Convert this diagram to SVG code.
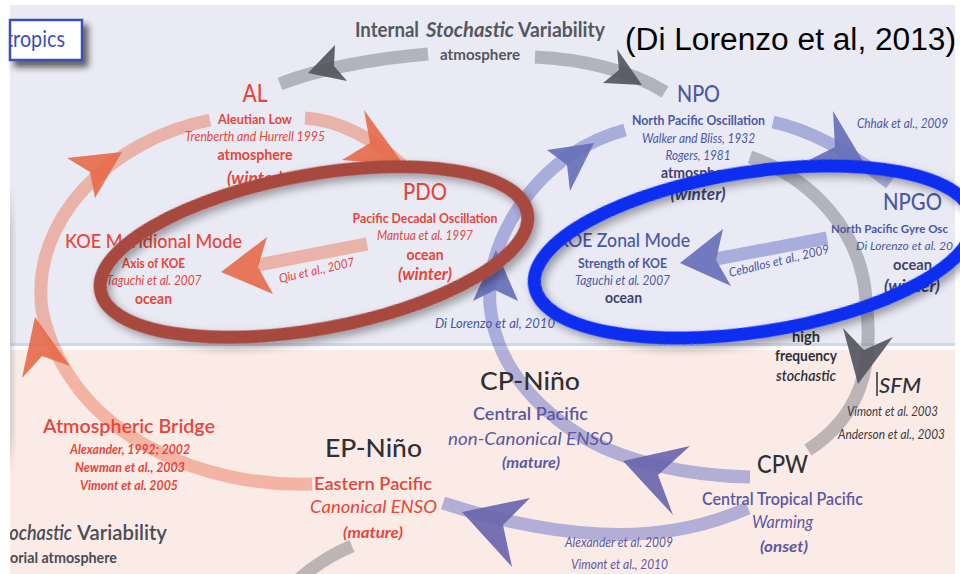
<svg xmlns="http://www.w3.org/2000/svg" width="960" height="574" viewBox="0 0 960 574">
<defs>
<style>
text{font-family:Lato,"Open Sans","DejaVu Sans",sans-serif}
.r{fill:#e6463a}.b{fill:#4a58a6}.p{fill:#5b58a3}.d{fill:#2f3034}.g{fill:#55575f}.n{fill:#3f4472}
.i{font-style:italic}.w{font-weight:700}.s{font-weight:600}.m{font-weight:500}
.band{fill:none;stroke-width:13}
.or{stroke:rgba(232,112,80,0.45)}
.lv{stroke:rgba(90,100,190,0.45)}
.gy{stroke:rgba(110,112,120,0.45)}
.ho{fill:#e66d4c;opacity:.92}.hl{fill:#6670b9;opacity:.92}.hp{fill:#6a66ae;opacity:.92}.hg{fill:#55575e;opacity:.92}
.ell{fill:none;stroke-width:13;filter:url(#sh)}
</style>
<filter id="sh" x="-10%" y="-25%" width="125%" height="160%"><feDropShadow dx="3" dy="5" stdDeviation="4" flood-color="#000" flood-opacity="0.35"/></filter>
<filter id="bs" x="-20%" y="-30%" width="150%" height="170%"><feDropShadow dx="5" dy="6" stdDeviation="3" flood-color="#222" flood-opacity="0.7"/></filter>
<clipPath id="cl"><rect x="10" y="0" width="946" height="574"/></clipPath>
<linearGradient id="lg" x1="0" x2="1" y1="0" y2="0"><stop offset="0" stop-color="#9a9aa4" stop-opacity=".4"/><stop offset="1" stop-color="#9a9aa4" stop-opacity="0"/></linearGradient>
<linearGradient id="lgv" x1="0" x2="0" y1="0" y2="1"><stop offset="0" stop-color="#fff" stop-opacity="0"/><stop offset=".15" stop-color="#fff" stop-opacity="1"/><stop offset=".85" stop-color="#fff" stop-opacity="1"/><stop offset="1" stop-color="#fff" stop-opacity="0"/></linearGradient>
<mask id="fade"><rect x="10" y="185" width="8" height="290" fill="url(#lgv)"/></mask>
</defs>

<g id="background">
<rect width="960" height="574" fill="#fff"/>
<rect x="10" y="5" width="945" height="340" fill="#e9eaf4"/>
<rect x="10" y="343" width="945" height="3" fill="#d3d5ea"/>
<rect x="10" y="350" width="945" height="224" fill="#fbebe7"/>
<rect x="10" y="185" width="7" height="290" fill="url(#lg)" mask="url(#fade)"/>
</g>

<g id="title-box">
<rect x="10" y="20" width="72" height="40" fill="#fff" stroke="#3a50b8" stroke-width="2.5" filter="url(#bs)"/>
<text x="6" y="47" font-size="23" textLength="59" lengthAdjust="spacingAndGlyphs" fill="#3a50b8" clip-path="url(#cl)">tropics</text>
</g>
<text id="citation" x="625" y="50" font-size="31" textLength="331" lengthAdjust="spacingAndGlyphs" fill="#000" style="font-family:'Liberation Sans',Arial,sans-serif">(Di Lorenzo et al, 2013)</text>

<g id="connectors">
<!-- gray stochastic arcs -->
<path class="band gy" d="M428 54 C380 58 320 68 280 84"/>
<path class="band gy" d="M535 57 C580 59 630 70 665 92"/>
<path class="band gy" d="M750 157 C812 178 862 232 866 300 C874 365 862 415 808 450"/>
<path class="band gy" d="M298 580 C315 565 330 555 352 546"/>
<!-- orange loop -->
<path class="band or" d="M312 484 C210 488 70 440 42 310 C30 220 110 140 210 120"/>
<path class="band or" d="M305 118 C340 120 375 140 402 165"/>
<path class="band or" d="M367 244 L258 265"/>
<!-- lavender loop -->
<path class="band lv" d="M750 477 C690 476 620 462 575 432 C530 402 495 360 490 305 C486 250 520 190 570 155 C590 142 610 134 625 130"/>
<path class="band lv" d="M773 122 C810 130 850 152 890 183"/>
<path class="band lv" d="M827 238 L716 259"/>
<path class="band lv" d="M748 508 C710 525 660 537 600 534 C540 531 480 515 443 503"/>
<!-- arrowheads -->
<polygon class="hg" points="335,45 308,73 347,81 334,66"/>
<polygon class="hg" points="617,49 642,85 603,83 619,70"/>
<polygon class="hg" points="843,328 858,384 893,337 864,350"/>
<polygon class="ho" points="67,158 122,152 95,198 90,172"/>
<polygon class="ho" points="22,378 35,317 70,366 42,356"/>
<polygon class="ho" points="364,110 404,165 342,160 370,143"/>
<polygon class="ho" points="267,237 221,272 273,294 258,267"/>
<polygon class="hl" points="547,150 594,143 570,191 567,165"/>
<polygon class="hl" points="473,301 496,250 518,301 495,290"/>
<polygon class="hl" points="833,111 864,163 809,160 835,147"/>
<polygon class="hl" points="723,229 680,263 731,286 716,260"/>
<polygon class="hp" points="690,446 623,461 673,515 658,475"/>
<polygon class="hp" points="530,498 462,512 512,567 503,525"/>
<!-- connector labels -->
<text class="r i" x="280" y="283" font-size="12.5" textLength="77" lengthAdjust="spacingAndGlyphs" transform="rotate(-12.8 280 283)">Qiu et al., 2007</text>
<text class="b i" x="730" y="277" font-size="12.5" textLength="103" lengthAdjust="spacingAndGlyphs" transform="rotate(-13.5 730 277)">Ceballos et al., 2009</text>
<text class="b i" x="857" y="128" font-size="12.5" textLength="91" lengthAdjust="spacingAndGlyphs">Chhak et al., 2009</text>
<text class="b i" x="435" y="328" font-size="13" textLength="120" lengthAdjust="spacingAndGlyphs">Di Lorenzo et al, 2010</text>
<text class="p i" x="565" y="547" font-size="12.5" textLength="108" lengthAdjust="spacingAndGlyphs">Alexander et al. 2009</text>
<text class="p i" x="571" y="569" font-size="12.5" textLength="97" lengthAdjust="spacingAndGlyphs">Vimont et al., 2010</text>
<g text-anchor="middle">
<text class="d w" x="806" y="342" font-size="14.5" textLength="28" lengthAdjust="spacingAndGlyphs">high</text>
<text class="d w" x="806" y="361" font-size="14.5" textLength="62" lengthAdjust="spacingAndGlyphs">frequency</text>
<text class="d s i" x="806" y="381" font-size="14.5" textLength="60" lengthAdjust="spacingAndGlyphs">stochastic</text>
</g>
</g>

<g id="node-ISV">
<text class="g w" x="355" y="37" font-size="20" textLength="64" lengthAdjust="spacingAndGlyphs">Internal</text>
<text class="g w i" x="426" y="37" font-size="20" textLength="88" lengthAdjust="spacingAndGlyphs">Stochastic</text>
<text class="g w" x="518" y="37" font-size="20" textLength="87" lengthAdjust="spacingAndGlyphs">Variability</text>
<text class="g w" x="480" y="60" font-size="15.5" text-anchor="middle" textLength="80" lengthAdjust="spacingAndGlyphs">atmosphere</text>
</g>

<g id="node-AL" text-anchor="middle">
<text class="r m" x="255" y="102" font-size="24" textLength="25" lengthAdjust="spacingAndGlyphs">AL</text>
<text class="r w" x="255" y="124" font-size="13.5" textLength="74" lengthAdjust="spacingAndGlyphs">Aleutian Low</text>
<text class="r i" x="255" y="141" font-size="13" textLength="140" lengthAdjust="spacingAndGlyphs">Trenberth and Hurrell 1995</text>
<text class="r w" x="255" y="160" font-size="15" textLength="75" lengthAdjust="spacingAndGlyphs">atmosphere</text>
<text class="r w i" x="255" y="184" font-size="16.5" textLength="56" lengthAdjust="spacingAndGlyphs">(winter)</text>
</g>

<g id="node-PDO" text-anchor="middle">
<text class="r m" x="425" y="200" font-size="23" textLength="44" lengthAdjust="spacingAndGlyphs">PDO</text>
<text class="r w" x="425" y="223" font-size="13.5" textLength="145" lengthAdjust="spacingAndGlyphs">Pacific Decadal Oscillation</text>
<text class="r i" x="425" y="240" font-size="13" textLength="96" lengthAdjust="spacingAndGlyphs">Mantua et al. 1997</text>
<text class="r w" x="425" y="260" font-size="15.5" textLength="37" lengthAdjust="spacingAndGlyphs">ocean</text>
<text class="r w i" x="425" y="280" font-size="16.5" textLength="54" lengthAdjust="spacingAndGlyphs">(winter)</text>
</g>

<g id="node-KOE-meridional" text-anchor="middle">
<text class="r m" x="153.5" y="248" font-size="20" textLength="177" lengthAdjust="spacingAndGlyphs">KOE Meridional Mode</text>
<text class="r w" x="153.5" y="268" font-size="13" textLength="63" lengthAdjust="spacingAndGlyphs">Axis of KOE</text>
<text class="r i" x="154" y="285" font-size="13" textLength="95" lengthAdjust="spacingAndGlyphs">Taguchi et al. 2007</text>
<text class="r w" x="153.5" y="304" font-size="15" textLength="37" lengthAdjust="spacingAndGlyphs">ocean</text>
</g>

<g id="node-NPO" text-anchor="middle">
<text class="b m" x="698.5" y="102" font-size="23" textLength="43" lengthAdjust="spacingAndGlyphs">NPO</text>
<text class="b w" x="698.5" y="125" font-size="13" textLength="133" lengthAdjust="spacingAndGlyphs">North Pacific Oscillation</text>
<text class="b i" x="698.5" y="143" font-size="13" textLength="113" lengthAdjust="spacingAndGlyphs">Walker and Bliss, 1932</text>
<text class="b i" x="698" y="160" font-size="12.5" textLength="65" lengthAdjust="spacingAndGlyphs">Rogers, 1981</text>
<text class="n w" x="698" y="178" font-size="15" textLength="74" lengthAdjust="spacingAndGlyphs">atmosphere</text>
<text class="n w i" x="698" y="200" font-size="16.5" textLength="55" lengthAdjust="spacingAndGlyphs">(winter)</text>
</g>

<g id="node-NPGO">
<text class="b m" x="912.5" y="210" font-size="23" text-anchor="middle" textLength="59" lengthAdjust="spacingAndGlyphs">NPGO</text>
<text class="b w" x="831" y="233" font-size="11.5" textLength="117" lengthAdjust="spacingAndGlyphs">North Pacific Gyre Osc</text>
<text class="b i" x="856" y="250" font-size="12" textLength="97" lengthAdjust="spacingAndGlyphs">Di Lorenzo et al. 20</text>
<text class="n w" x="912.5" y="270" font-size="15.5" text-anchor="middle" textLength="39" lengthAdjust="spacingAndGlyphs">ocean</text>
<text class="n w i" x="912" y="292" font-size="16.5" text-anchor="middle" textLength="56" lengthAdjust="spacingAndGlyphs">(winter)</text>
</g>

<g id="node-KOE-zonal" text-anchor="middle">
<text class="b m" x="623.5" y="247" font-size="20" textLength="133" lengthAdjust="spacingAndGlyphs">KOE Zonal Mode</text>
<text class="b w" x="622.5" y="268" font-size="13" textLength="89" lengthAdjust="spacingAndGlyphs">Strength of KOE</text>
<text class="b i" x="622.5" y="285" font-size="13" textLength="95" lengthAdjust="spacingAndGlyphs">Taguchi et al. 2007</text>
<text class="n w" x="623.5" y="303" font-size="15" textLength="37" lengthAdjust="spacingAndGlyphs">ocean</text>
</g>

<g id="node-SFM">
<line x1="877" y1="372" x2="877" y2="396" stroke="#2f3034" stroke-width="1.5"/>
<text class="d i m" x="879" y="393" font-size="22" textLength="42" lengthAdjust="spacingAndGlyphs">SFM</text>
<text class="i" x="892.5" y="416" font-size="12.5" text-anchor="middle" textLength="91" lengthAdjust="spacingAndGlyphs" fill="#3a3a3e">Vimont et al. 2003</text>
<text class="i" x="891.5" y="439" font-size="12.5" text-anchor="middle" textLength="107" lengthAdjust="spacingAndGlyphs" fill="#3a3a3e">Anderson et al., 2003</text>
</g>

<g id="node-CPW" text-anchor="middle">
<text class="d m" x="782.5" y="473" font-size="25" textLength="51" lengthAdjust="spacingAndGlyphs">CPW</text>
<text class="p s" x="782.5" y="505" font-size="17" textLength="161" lengthAdjust="spacingAndGlyphs">Central Tropical Pacific</text>
<text class="p i" x="782.5" y="528" font-size="17" textLength="61" lengthAdjust="spacingAndGlyphs">Warming</text>
<text class="p w i" x="784" y="552" font-size="16" textLength="48" lengthAdjust="spacingAndGlyphs">(onset)</text>
</g>

<g id="node-CP-Nino" text-anchor="middle">
<text class="d m" x="530" y="390" font-size="25" textLength="100" lengthAdjust="spacingAndGlyphs">CP-Niño</text>
<text class="p s" x="530.5" y="420" font-size="17.5" textLength="115" lengthAdjust="spacingAndGlyphs">Central Pacific</text>
<text class="p i" x="530.5" y="445" font-size="17.5" textLength="165" lengthAdjust="spacingAndGlyphs">non-Canonical ENSO</text>
<text class="p w i" x="531" y="468" font-size="15.5" textLength="58" lengthAdjust="spacingAndGlyphs">(mature)</text>
</g>

<g id="node-EP-Nino" text-anchor="middle">
<text class="d m" x="373.5" y="457" font-size="25" textLength="97" lengthAdjust="spacingAndGlyphs">EP-Niño</text>
<text class="r s" x="373" y="490" font-size="17.5" textLength="118" lengthAdjust="spacingAndGlyphs">Eastern Pacific</text>
<text class="r i" x="373.5" y="513" font-size="17.5" textLength="127" lengthAdjust="spacingAndGlyphs">Canonical ENSO</text>
<text class="r w i" x="373" y="538" font-size="15.5" textLength="60" lengthAdjust="spacingAndGlyphs">(mature)</text>
</g>

<g id="node-atmospheric-bridge" text-anchor="middle">
<text class="r s" x="129" y="433" font-size="20" textLength="172" lengthAdjust="spacingAndGlyphs">Atmospheric Bridge</text>
<text class="r w i" x="130" y="454" font-size="13" textLength="120" lengthAdjust="spacingAndGlyphs">Alexander, 1992; 2002</text>
<text class="r w i" x="130" y="472" font-size="13" textLength="110" lengthAdjust="spacingAndGlyphs">Newman et al., 2003</text>
<text class="r w i" x="129" y="490" font-size="13" textLength="98" lengthAdjust="spacingAndGlyphs">Vimont et al. 2005</text>
</g>

<g id="node-ESV" clip-path="url(#cl)">
<text class="s i" x="3" y="540" font-size="21" textLength="69" lengthAdjust="spacingAndGlyphs" fill="#4a4c56">tochastic</text>
<text class="s" x="77" y="540" font-size="21" textLength="90" lengthAdjust="spacingAndGlyphs" fill="#4a4c56">Variability</text>
<text class="w" x="10" y="563" font-size="15.5" textLength="107" lengthAdjust="spacingAndGlyphs" fill="#4a4c56">orial atmosphere</text>
</g>

<g id="highlights">
<ellipse class="ell" cx="314" cy="252" rx="217" ry="77" transform="rotate(-10.4 314 252)" stroke="#a8483f"/>
<ellipse class="ell" cx="754" cy="252" rx="222" ry="80" transform="rotate(-8.8 754 252)" stroke="#0d2ef0"/>
</g>
</svg>
